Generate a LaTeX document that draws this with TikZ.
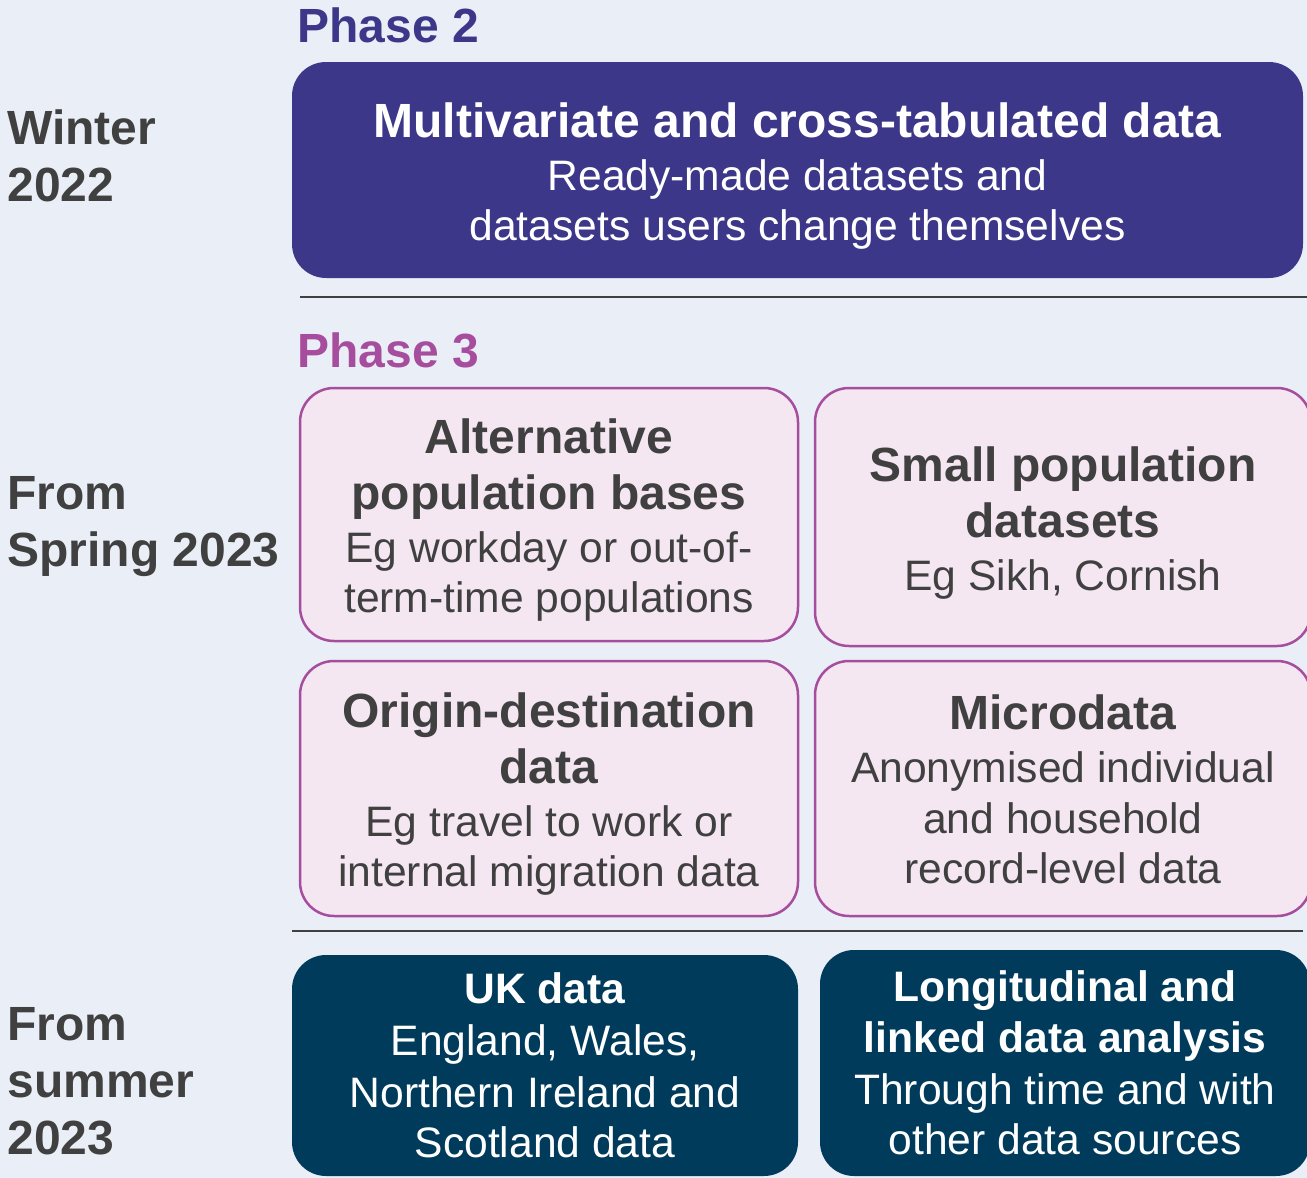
\documentclass[tikz,border=0pt]{standalone}
\usepackage{fontspec}
\setmainfont{Liberation Sans}
\usepackage{xcolor}
\definecolor{bgblue}{HTML}{EAEFF7}
\definecolor{phasetwo}{HTML}{3D3789}
\definecolor{phasethree}{HTML}{A64D9D}
\definecolor{pinkfill}{HTML}{F4E7F2}
\definecolor{darkteal}{HTML}{003B5C}
\definecolor{textgrey}{HTML}{404040}
\newcommand{\boxhead}[1]{{\fontsize{24}{28}\selectfont\bfseries #1}}
\newcommand{\smallhead}[1]{{\bfseries #1}}

\begin{document}
\begin{tikzpicture}[x=0.5pt, y=-0.5pt,
  every node/.style={font=\fontsize{21.3}{25}\selectfont, inner sep=0pt},
  when/.style={anchor=north west, align=left, text=textgrey, font=\fontsize{24}{28.5}\selectfont\bfseries},
  phase/.style={anchor=base west, font=\fontsize{24}{28.5}\selectfont\bfseries},
  bluebox/.style={fill=phasetwo, rounded corners=17pt},
  pinkbox/.style={draw=phasethree, line width=1.25pt, fill=pinkfill, rounded corners=17pt},
  tealbox/.style={fill=darkteal, rounded corners=17pt},
  lighttext/.style={align=center, text=white},
  darktext/.style={align=center, text=textgrey}]
\clip (0,0) rectangle (1307,1178);
\fill[bgblue] (0,0) rectangle (1307,1178);
% Draw dividers
\draw[textgrey, line width=0.75pt] (300,297)--(1307,297);
\draw[textgrey, line width=0.75pt] (292,931)--(1303,931);
% Draw phase 2
\node[phase, text=phasetwo] (phase2) at (297,42) {Phase 2};
\node[bluebox, minimum width=505.5pt, minimum height=108pt] (multivariate) at (797.5,170) {};
\node[lighttext, yshift=-3pt] (multivariate-text) at (multivariate.center)
  {\boxhead{Multivariate and cross-tabulated data}\\[1.5pt] Ready-made datasets and\\ datasets users change themselves};
% Draw phase 3
\node[phase, text=phasethree] (phase3) at (297,367) {Phase 3};
\node[pinkbox, minimum width=249pt, minimum height=126.5pt] (altbases) at (549,514.5) {};
\node[pinkbox, minimum width=248pt, minimum height=129pt] (smallpop) at (1063,517) {};
\node[pinkbox, minimum width=249pt, minimum height=127.5pt] (origindest) at (549,788.5) {};
\node[pinkbox, minimum width=248pt, minimum height=127.5pt] (microdata) at (1063,788.5) {};
\node[darktext, yshift=-3pt] (altbases-text) at (altbases.center)
  {\boxhead{Alternative}\\[3pt] \boxhead{population bases}\\[1.5pt] Eg workday or out-of-\\ term-time populations};
\node[darktext, yshift=-3pt] (smallpop-text) at (smallpop.center)
  {\boxhead{Small population}\\[3pt] \boxhead{datasets}\\[1.5pt] Eg Sikh, Cornish};
\node[darktext, yshift=-3pt] (origindest-text) at (origindest.center)
  {\boxhead{Origin-destination}\\[3pt] \boxhead{data}\\[1.5pt] Eg travel to work or\\ internal migration data};
\node[darktext, yshift=-0.5pt] (microdata-text) at (microdata.center)
  {\boxhead{Microdata}\\[1.5pt] Anonymised individual\\[0.5pt] and household\\ record-level data};
% Draw later boxes
\node[tealbox, minimum width=253pt, minimum height=110.5pt] (ukdata) at (545,1065.5) {};
\node[tealbox, minimum width=245pt, minimum height=113pt] (longitudinal) at (1065,1063) {};
\node[lighttext] (ukdata-text) at (ukdata.center)
  {\smallhead{UK data}\\[1pt] England, Wales,\\[1pt] Northern Ireland and\\ Scotland data};
\node[lighttext] (longitudinal-text) at (longitudinal.center)
  {\smallhead{Longitudinal and}\\[0.5pt] \smallhead{linked data analysis}\\[1pt] Through time and with\\ other data sources};
% Draw time labels
\node[when] (winter) at (7,109) {Winter\\2022};
\node[when] (spring) at (7,476) {From\\Spring 2023};
\node[when] (summer) at (7,1007) {From\\summer\\2023};
\end{tikzpicture}
\end{document}
